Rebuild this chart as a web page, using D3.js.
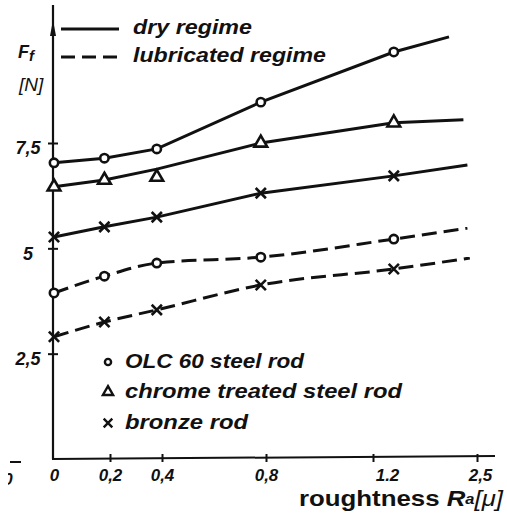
<!DOCTYPE html>
<html><head><meta charset="utf-8">
<script src="https://cdn.jsdelivr.net/npm/d3@7"></script>
<style>
html,body{margin:0;padding:0;background:#fff;}
svg{display:block;}
text{font-family:"Liberation Sans",Arial,sans-serif;fill:#111;}
</style></head>
<body><svg id="chart" width="507" height="513"></svg>
<script>
// ---- data ----
const xTickValues = [0, 0.2, 0.4, 0.8, 1.2, 2.5];
const xTickLabels = ["0", "0,2", "0,4", "0,8", "1.2", "2,5"];
const yTickValues = [2.5, 5, 7.5];
const yTickLabels = ["2,5", "5", "7,5"];
// x positions of the measured points, as read on the drawn axis
const pointX = [0, 0.18, 0.38, 0.78, 1.46];
// dry regime (solid)
const dryOLC = [7.03, 7.14, 7.36, 8.47, 9.66];
const dryOLCEnd = [2.15, 10.02];
const dryChromeCurve = [6.46, 6.62, 6.88, 7.5, 7.98];
const dryChromePoints = [6.46, 6.62, 6.69, 7.5, 7.98];
const dryChromeEnd = [2.33, 8.05];
const dryBronze = [5.27, 5.51, 5.74, 6.31, 6.72];
const dryBronzeEnd = [2.38, 6.98];
// lubricated regime (dashed)
const lubOLC = [3.94, 4.34, 4.65, 4.79, 5.22];
const lubOLCEnd = [2.38, 5.48];
const lubBronze = [2.9, 3.25, 3.54, 4.13, 4.51];
const lubBronzeEnd = [2.41, 4.77];
const regimeLabels = ["dry regime", "lubricated regime"];
const materialLabels = ["OLC 60 steel rod", "chrome treated steel rod", "bronze rod"];

// ---- layout ----
const svg = d3.select("#chart");
const x = d3.scaleLinear().domain(xTickValues).range([54, 110, 162, 266, 373, 477]);
const y = d3.scaleLinear().domain([0, 7.5]).range([459, 143]);
const x0 = x(0), y0 = y(0);
const labelFont = "Liberation Sans, Arial, sans-serif";

// axes lines
svg.append("line").attr("x1", x0 - 1).attr("x2", x0 - 1).attr("y1", 5).attr("y2", y0)
  .attr("stroke", "#111").attr("stroke-width", 2.2);
svg.append("path").attr("d", `M${x0-1},20 L${x0-4},36 L${x0+2},36 Z`).attr("fill", "#111");
svg.append("line").attr("x1", x0 - 2).attr("x2", 495).attr("y1", y0).attr("y2", y0 - 3)
  .attr("stroke", "#111").attr("stroke-width", 2);

// x axis ticks
const xAxis = d3.axisBottom(x).tickValues(xTickValues)
  .tickFormat((d, i) => xTickLabels[i]).tickSize(0).tickPadding(10);
const gx = svg.append("g").attr("transform", `translate(0,${y0})`).call(xAxis);
gx.select(".domain").remove();
gx.selectAll(".tick").filter(d => d > 0).append("line")
  .attr("y1", -5).attr("y2", 3).attr("stroke", "#111").attr("stroke-width", 2);
gx.selectAll(".tick text").attr("font-size", 17).attr("font-style", "italic")
  .attr("font-weight", "bold").attr("fill", "#111").attr("font-family", labelFont)
  .attr("dx", (d) => d === 1.2 ? 14 : (d === 2.5 ? 3 : 0));

// y axis ticks
const yAxis = d3.axisLeft(y).tickValues(yTickValues)
  .tickFormat((d, i) => yTickLabels[i]).tickSize(0);
const gy = svg.append("g").attr("transform", `translate(${x0 - 1},0)`).call(yAxis);
gy.select(".domain").remove();
gy.selectAll(".tick").append("line").attr("x1", -5).attr("x2", 5)
  .attr("stroke", "#111").attr("stroke-width", 2);
gy.selectAll(".tick text").attr("font-size", 18).attr("font-style", "italic")
  .attr("font-weight", "bold").attr("fill", "#111").attr("font-family", labelFont)
  .attr("text-anchor", "middle").attr("x", -25).attr("dy", "0.6em");

// cropped left remnants (partial label cut by the scan)
svg.append("defs").append("clipPath").attr("id", "cropL")
  .append("rect").attr("x", 8).attr("y", 465).attr("width", 20).attr("height", 30);
svg.append("line").attr("x1", 10).attr("x2", 21).attr("y1", 462).attr("y2", 462)
  .attr("stroke", "#111").attr("stroke-width", 2);
svg.append("text").attr("x", 8).attr("y", 485).attr("font-size", 17).attr("font-style", "italic")
  .attr("font-weight", "bold").attr("text-anchor", "middle").attr("clip-path", "url(#cropL)").text("0");

// axis titles
const yt = svg.append("text").attr("x", 18).attr("y", 58).attr("font-size", 18)
  .attr("font-style", "italic").attr("font-weight", "bold");
yt.append("tspan").text("F");
yt.append("tspan").attr("font-size", 15).attr("dy", 3).text("f");
svg.append("text").attr("x", 19).attr("y", 91).attr("font-size", 19).attr("font-style", "italic")
  .text("[N]");

const xt = svg.append("text").attr("x", 299).attr("y", 506)
  .attr("font-size", 22).attr("font-weight", "bold")
  .attr("textLength", 204).attr("lengthAdjust", "spacingAndGlyphs");
xt.append("tspan").text("roughtness ");
xt.append("tspan").attr("font-style", "italic").text("R");
xt.append("tspan").attr("font-style", "italic").attr("font-size", 14).attr("dy", -2).text("a");
xt.append("tspan").attr("font-style", "italic").attr("font-weight", "normal").attr("dy", 2).text("[μ]");

// ---- series ----
const lineGen = d3.line().x(d => x(d[0])).y(d => y(d[1]));
function curvePts(vals, end) { return vals.map((v, i) => [pointX[i], v]).concat([end]); }

function drawSeries(vals, end, dashed, curve) {
  svg.append("path").datum(curvePts(vals, end))
    .attr("d", lineGen.curve(curve)).attr("fill", "none").attr("stroke", "#111")
    .attr("stroke-width", 3).attr("stroke-dasharray", dashed ? "15,7" : null);
}
drawSeries(dryOLC, dryOLCEnd, false, d3.curveLinear);
drawSeries(dryChromeCurve, dryChromeEnd, false, d3.curveLinear);
drawSeries(dryBronze, dryBronzeEnd, false, d3.curveLinear);
drawSeries(lubOLC, lubOLCEnd, true, d3.curveMonotoneX);
drawSeries(lubBronze, lubBronzeEnd, true, d3.curveMonotoneX);

// markers
const circleSym = d3.symbol().type(d3.symbolCircle).size(55);
const triSym = d3.symbol().type(d3.symbolTriangle).size(70);
const crossSym = d3.symbol().type(d3.symbolTimes).size(70);
function drawMarkers(vals, sym) {
  svg.append("g").selectAll("path").data(vals).join("path")
    .attr("transform", (d, i) => `translate(${x(pointX[i])},${y(d)})`)
    .attr("d", sym).attr("fill", "#fff").attr("stroke", "#111").attr("stroke-width", 2.6);
}
drawMarkers(dryOLC, circleSym);
drawMarkers(dryChromePoints, triSym);
drawMarkers(dryBronze, crossSym);
drawMarkers(lubOLC, circleSym);
drawMarkers(lubBronze, crossSym);

// ---- legends ----
const leg = svg.append("g");
const regimeWidths = [119, 193];
[false, true].forEach((dashed, i) => {
  const yy = 29 + i * 28;
  leg.append("line").attr("x1", 61).attr("x2", 119).attr("y1", yy).attr("y2", yy)
    .attr("stroke", "#111").attr("stroke-width", 3).attr("stroke-dasharray", dashed ? "14,7" : null);
  leg.append("text").attr("x", 133).attr("y", yy + 5).attr("font-size", 20)
    .attr("font-style", "italic").attr("font-weight", "bold")
    .attr("textLength", regimeWidths[i]).attr("lengthAdjust", "spacingAndGlyphs").text(regimeLabels[i]);
});
const legSyms = [d3.symbol().type(d3.symbolCircle).size(30), d3.symbol().type(d3.symbolTriangle).size(45),
  d3.symbol().type(d3.symbolTimes).size(50)];
const materialWidths = [179, 277, 123];
const materialBaselines = [368, 398, 429];
materialLabels.forEach((lab, i) => {
  const yy = materialBaselines[i];
  leg.append("path").attr("transform", `translate(108,${yy - 6})`).attr("d", legSyms[i])
    .attr("fill", "#fff").attr("stroke", "#111").attr("stroke-width", 2.4);
  leg.append("text").attr("x", 125).attr("y", yy).attr("font-size", 21)
    .attr("font-style", "italic").attr("font-weight", "bold")
    .attr("textLength", materialWidths[i]).attr("lengthAdjust", "spacingAndGlyphs").text(lab);
});
</script></body></html>
